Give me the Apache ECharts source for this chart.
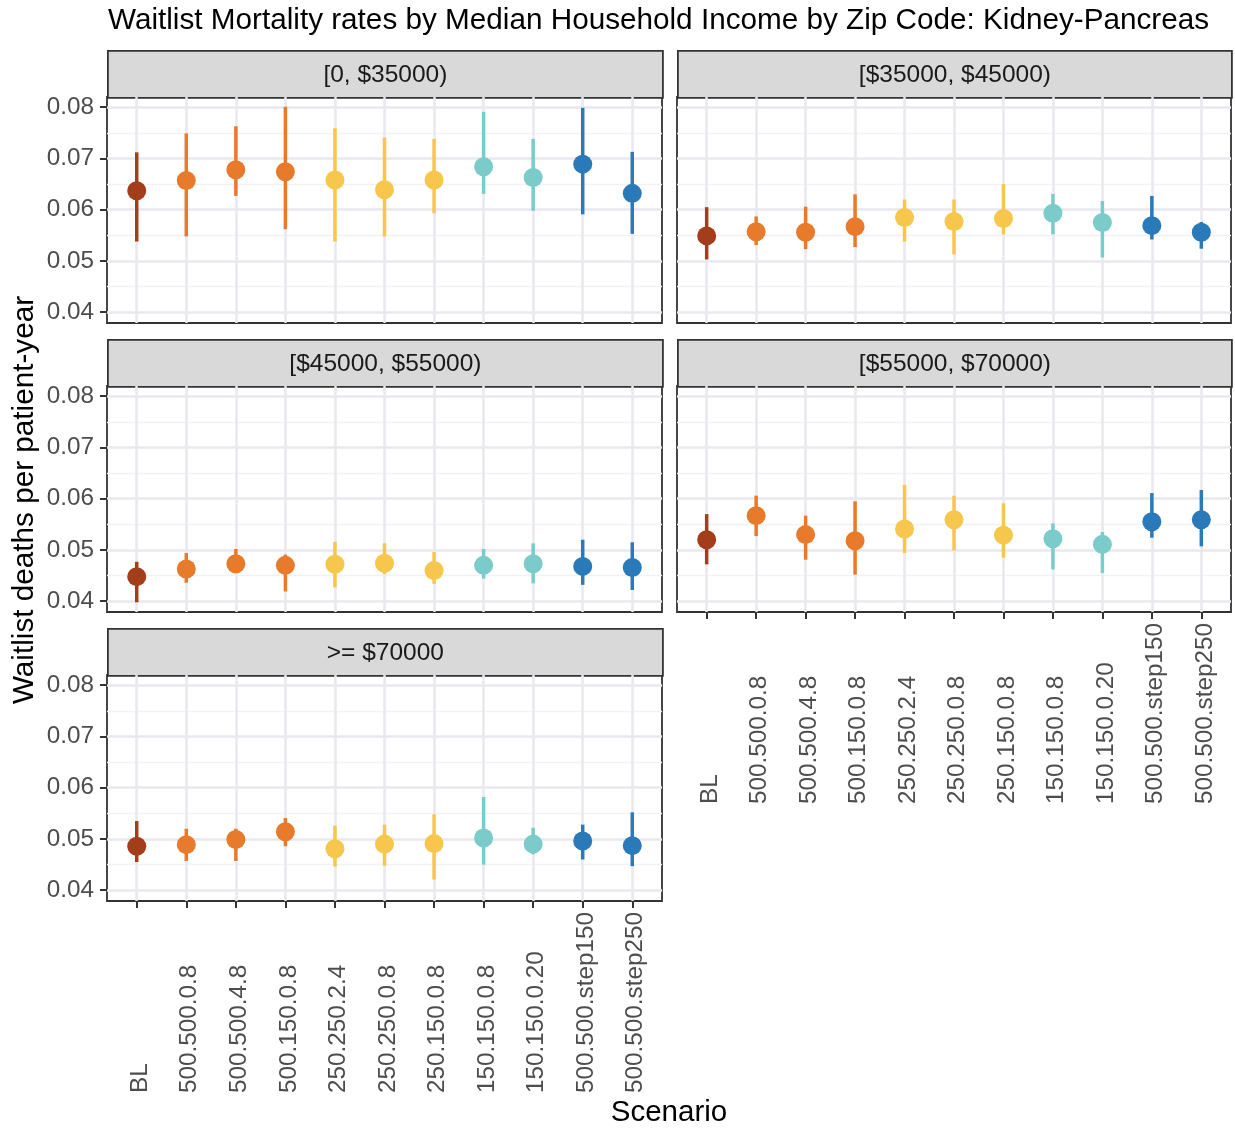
<!DOCTYPE html>
<html><head><meta charset="utf-8">
<script src="https://cdn.jsdelivr.net/npm/echarts@6/dist/echarts.min.js"></script>
<style>html,body{margin:0;padding:0;background:#fff}#c{width:1235px;height:1131px}</style>
</head><body><div id="c"></div>
<script>
const categories = ['BL','500.500.0.8','500.500.4.8','500.150.0.8','250.250.2.4','250.250.0.8','250.150.0.8','150.150.0.8','150.150.0.20','500.500.step150','500.500.step250'];
const pointColors = ['#A33D1A','#E87A2C','#E87A2C','#E87A2C','#F7C64C','#F7C64C','#F7C64C','#7CCBCB','#7CCBCB','#2A79B8','#2A79B8'];
const panelNames = ['[0, $35000)','[$35000, $45000)','[$45000, $55000)','[$55000, $70000)','>= $70000'];
const yTicks = [0.04,0.05,0.06,0.07,0.08];
const yMinorTicks = [0.045,0.055,0.065,0.075];

const mid1 = [0.0637,0.0657,0.0678,0.0674,0.0658,0.0639,0.0658,0.0684,0.0663,0.0689,0.0632];
const lo1  = [0.0538,0.0548,0.0627,0.0562,0.0538,0.0548,0.0593,0.0631,0.0598,0.0591,0.0553];
const hi1  = [0.0712,0.0749,0.0763,0.0801,0.0759,0.0741,0.0738,0.0791,0.0738,0.0799,0.0713];

const mid2 = [0.0549,0.0557,0.0556,0.0567,0.0585,0.0577,0.0583,0.0593,0.0575,0.0569,0.0556];
const lo2  = [0.0503,0.0531,0.0523,0.0527,0.0538,0.0513,0.0552,0.0552,0.0507,0.0542,0.0524];
const hi2  = [0.0605,0.0587,0.0606,0.0630,0.0620,0.0620,0.0650,0.0631,0.0617,0.0627,0.0576];

const mid3 = [0.0448,0.0463,0.0473,0.0470,0.0472,0.0474,0.0460,0.0470,0.0473,0.0468,0.0466];
const lo3  = [0.0398,0.0436,0.0455,0.0419,0.0427,0.0453,0.0434,0.0444,0.0435,0.0432,0.0422];
const hi3  = [0.0477,0.0494,0.0502,0.0491,0.0516,0.0513,0.0496,0.0502,0.0513,0.0520,0.0515];

const mid4 = [0.0520,0.0567,0.0530,0.0518,0.0541,0.0559,0.0529,0.0522,0.0511,0.0555,0.0559];
const lo4  = [0.0472,0.0527,0.0481,0.0452,0.0494,0.0499,0.0485,0.0462,0.0455,0.0524,0.0507];
const hi4  = [0.0570,0.0606,0.0567,0.0595,0.0627,0.0606,0.0591,0.0552,0.0535,0.0611,0.0617];

const mid5 = [0.0486,0.0489,0.0499,0.0514,0.0481,0.0490,0.0491,0.0502,0.0490,0.0496,0.0487];
const lo5  = [0.0455,0.0457,0.0457,0.0486,0.0446,0.0448,0.0421,0.0450,0.0470,0.0460,0.0447];
const hi5  = [0.0535,0.0520,0.0520,0.0541,0.0526,0.0528,0.0548,0.0582,0.0522,0.0528,0.0552];

const mids = [mid1,mid2,mid3,mid4,mid5];
const los = [lo1,lo2,lo3,lo4,lo5];
const his = [hi1,hi2,hi3,hi4,hi5];

const FONT = 'Liberation Sans, Arial, sans-serif';
const panelBoxes = [
  {left:107, top:97, width:555, height:226},
  {left:677, top:97, width:554, height:226},
  {left:107, top:386, width:555, height:226},
  {left:677, top:386, width:554, height:226},
  {left:107, top:675, width:555, height:226}
];
const showYLabels = [true,false,true,false,true];
const showXLabels = [false,false,false,true,true];
const catIdx = categories.map((c,i)=>i);
const X_MIN = -0.6, X_MAX = 10.6, Y_MIN = 0.0379, Y_MAX = 0.0820;

const grid = [], xAxis = [], yAxis = [], series = [], graphic = [];
panelBoxes.forEach((b,k)=>{
  grid.push({left:b.left, top:b.top, width:b.width, height:b.height, show:true, borderColor:'#333', borderWidth:1.8, backgroundColor:'transparent', containLabel:false});
  xAxis.push({
    type:'value', gridIndex:k, min:X_MIN, max:X_MAX, position:'bottom',
    axisLine:{show:false, onZero:false},
    axisTick:{show:showXLabels[k], customValues:catIdx, length:7, lineStyle:{color:'#333', width:2}},
    axisLabel:{show:showXLabels[k], customValues:catIdx, rotate:90, margin:12, color:'#4d4d4d', fontSize:24.3, fontFamily:FONT,
      formatter:(v)=>'{a|' + (categories[Math.round(v)] || '') + '}',
      rich:{a:{width:180, align:'left', padding:[7,0,0,0], color:'#4d4d4d', fontSize:24.3, fontFamily:FONT}}},
    splitLine:{show:true, lineStyle:{color:'#e8e9ee', width:2.5}}
  });
  yAxis.push({
    type:'value', gridIndex:k, min:Y_MIN, max:Y_MAX, position:'left',
    axisLine:{show:false, onZero:false},
    axisTick:{show:showYLabels[k], customValues:yTicks, length:7, lineStyle:{color:'#333', width:2}},
    axisLabel:{show:showYLabels[k], customValues:yTicks, margin:13, color:'#4d4d4d', fontSize:24.3, fontFamily:FONT,
      formatter:(v)=>v.toFixed(2)},
    splitLine:{show:true, lineStyle:{color:'#e8e9ee', width:2.5}}
  });
  yAxis.push({
    type:'value', gridIndex:k, min:Y_MIN, max:Y_MAX, position:'left',
    axisLine:{show:false, onZero:false},
    axisTick:{show:false, customValues:yMinorTicks},
    axisLabel:{show:false, customValues:yMinorTicks},
    splitLine:{show:true, lineStyle:{color:'#f1f2f5', width:1.4}}
  });
  const barData = catIdx.map(i=>[i, los[k][i], his[k][i]]);
  series.push({
    type:'custom', xAxisIndex:k, yAxisIndex:2*k, clip:true, z:2,
    data:barData,
    renderItem:(params, api)=>{
      const x = api.value(0);
      const p1 = api.coord([x, api.value(1)]);
      const p2 = api.coord([x, api.value(2)]);
      return {type:'line', shape:{x1:p1[0], y1:p1[1], x2:p2[0], y2:p2[1]},
        style:{stroke:pointColors[params.dataIndex], lineWidth:3.5}};
    }
  });
  series.push({
    type:'scatter', xAxisIndex:k, yAxisIndex:2*k, z:3, symbolSize:19,
    data:catIdx.map(i=>({value:[i, mids[k][i]], itemStyle:{color:pointColors[i], opacity:1}}))
  });
  graphic.push({
    type:'group', left:b.left, top:b.top-47,
    children:[
      {type:'rect', shape:{x:0, y:0, width:b.width, height:47}, style:{fill:'#d9d9d9', stroke:'#333', lineWidth:1.8}},
      {type:'text', x:b.width/2, y:24, style:{text:panelNames[k], fill:'#1a1a1a', fontSize:24.5, fontFamily:FONT, align:'center', verticalAlign:'middle'}}
    ]
  });
});

graphic.push({type:'text', left:108, top:6, style:{text:'Waitlist Mortality rates by Median Household Income by Zip Code: Kidney-Pancreas', fill:'#000', fontSize:29.7, fontFamily:FONT}});
graphic.push({type:'text', x:669, y:1113, style:{text:'Scenario', fill:'#000', fontSize:29.5, fontFamily:FONT, align:'center', verticalAlign:'middle'}});
graphic.push({type:'text', x:25, y:500, rotation:Math.PI/2, style:{text:'Waitlist deaths per patient-year', fill:'#000', fontSize:29.7, fontFamily:FONT, align:'center', verticalAlign:'middle'}});

const chart = echarts.init(document.getElementById('c'), null, {renderer:'canvas'});
chart.setOption({animation:false, backgroundColor:'#fff', grid, xAxis, yAxis, series, graphic});
</script>
</body></html>
